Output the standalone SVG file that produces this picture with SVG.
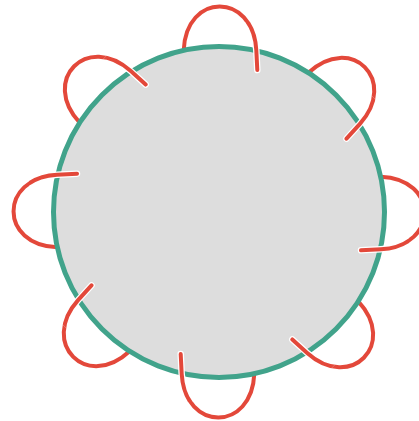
<svg xmlns="http://www.w3.org/2000/svg" xmlns:xlink="http://www.w3.org/1999/xlink" width="419" height="421" viewBox="0 0 419 421">
<style>
.disc{fill:#dddddd}
.ring{fill:none;stroke:#41a38b;stroke-width:5}
.under{fill:none;stroke:#e3483a;stroke-width:4;stroke-linecap:butt;stroke-linejoin:round}
.loop{fill:none;stroke:#e3483a;stroke-width:4;stroke-linecap:round;stroke-linejoin:round}
.halo{fill:none;stroke:#ffffff;stroke-width:6.5;stroke-linecap:round;stroke-linejoin:round}
</style>
<defs>
<path id="lp" d="M183.7,50.3 C186,-8 253,-8 256.3,50 L257.3,70"/>
<clipPath id="endclip"><rect x="238" y="22" width="40" height="60"/></clipPath>
<g id="over"><g clip-path="url(#endclip)"><use href="#lp" class="halo"/><use href="#lp" class="loop"/></g></g>
</defs>
<g id="disc"><circle class="disc" cx="219" cy="212" r="165.5"/></g>
<g id="loops-under">
<use href="#lp" class="under"/>
<use href="#lp" class="under" transform="rotate(45 219 212)"/>
<use href="#lp" class="under" transform="rotate(90 219 212)"/>
<use href="#lp" class="under" transform="rotate(135 219 212)"/>
<use href="#lp" class="under" transform="rotate(180 219 212)"/>
<use href="#lp" class="under" transform="rotate(225 219 212)"/>
<use href="#lp" class="under" transform="rotate(270 219 212)"/>
<use href="#lp" class="under" transform="rotate(315 219 212)"/>
</g>
<g id="ring"><circle class="ring" cx="219" cy="212" r="165.5"/></g>
<g id="loops-over">
<g><use href="#over"/></g>
<g transform="rotate(45 219 212)"><use href="#over"/></g>
<g transform="rotate(90 219 212)"><use href="#over"/></g>
<g transform="rotate(135 219 212)"><use href="#over"/></g>
<g transform="rotate(180 219 212)"><use href="#over"/></g>
<g transform="rotate(225 219 212)"><use href="#over"/></g>
<g transform="rotate(270 219 212)"><use href="#over"/></g>
<g transform="rotate(315 219 212)"><use href="#over"/></g>
</g>
</svg>
